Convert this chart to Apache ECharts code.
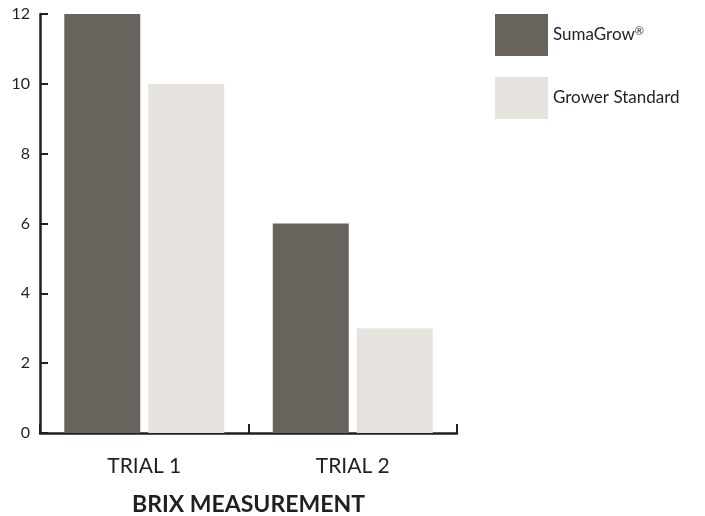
<!DOCTYPE html>
<html><head><meta charset="utf-8">
<script src="https://cdn.jsdelivr.net/npm/echarts@6/dist/echarts.min.js"></script>
<style>html,body{margin:0;padding:0;background:#fff}#c{width:705px;height:516px}</style>
</head><body><div id="c"></div>
<script>
const categories = ['TRIAL 1', 'TRIAL 2'];
const sumaGrow = [12, 6];
const growerStandard = [10, 3];
const yTicks = [0, 2, 4, 6, 8, 10, 12];

const chart = echarts.init(document.getElementById('c'));
const axisColor = '#231f20';
const font = 'Lato, "Open Sans", sans-serif';
chart.setOption({
  animation: false,
  textStyle: {fontFamily: font},
  grid: {left: 40, right: 248, top: 14, bottom: 83, outerBoundsMode: 'none', containLabel: false},
  legend: {
    orient: 'vertical', left: 495, top: 14, padding: 0, itemWidth: 53, itemHeight: 42, itemGap: 21,
    icon: 'rect',
    textStyle: {fontSize: 17, color: '#231f20', fontFamily: font,
      rich: {n: {fontSize: 17, color: '#231f20', fontFamily: font}, s: {fontSize: 11, color: '#231f20', verticalAlign: 'top', padding: [0,0,8,0], fontFamily: font}}},
    formatter: function(name){ return name === 'SumaGrow' ? '{n|SumaGrow}{s|®}' : '{n|' + name + '}'; },
    data: ['SumaGrow', 'Grower Standard']
  },
  xAxis: {
    type: 'category', data: categories,
    axisLine: {lineStyle: {color: axisColor, width: 2.5}},
    axisTick: {show: true, inside: true, length: 9, lineStyle: {color: axisColor, width: 2}},
    axisLabel: {fontSize: 21, color: '#231f20', margin: 23, fontFamily: font},
    name: 'BRIX MEASUREMENT', nameLocation: 'middle', nameGap: 60,
    nameTextStyle: {fontSize: 23, fontWeight: 'bold', color: '#231f20', fontFamily: font}
  },
  yAxis: {
    type: 'value', min: yTicks[0], max: yTicks[yTicks.length-1], interval: 2,
    splitLine: {show: false},
    axisLine: {show: true, lineStyle: {color: axisColor, width: 2.5}},
    axisTick: {show: true, inside: true, length: 8, lineStyle: {color: axisColor, width: 2}},
    axisLabel: {fontSize: 16, color: '#231f20', margin: 10, fontFamily: font}
  },
  series: [
    {name: 'SumaGrow', type: 'bar', data: sumaGrow, barWidth: 76, barGap: '10.5%', itemStyle: {color: '#69635e'}},
    {name: 'Grower Standard', type: 'bar', data: growerStandard, barWidth: 76, itemStyle: {color: '#e6e3df'}}
  ]
});
</script></body></html>
